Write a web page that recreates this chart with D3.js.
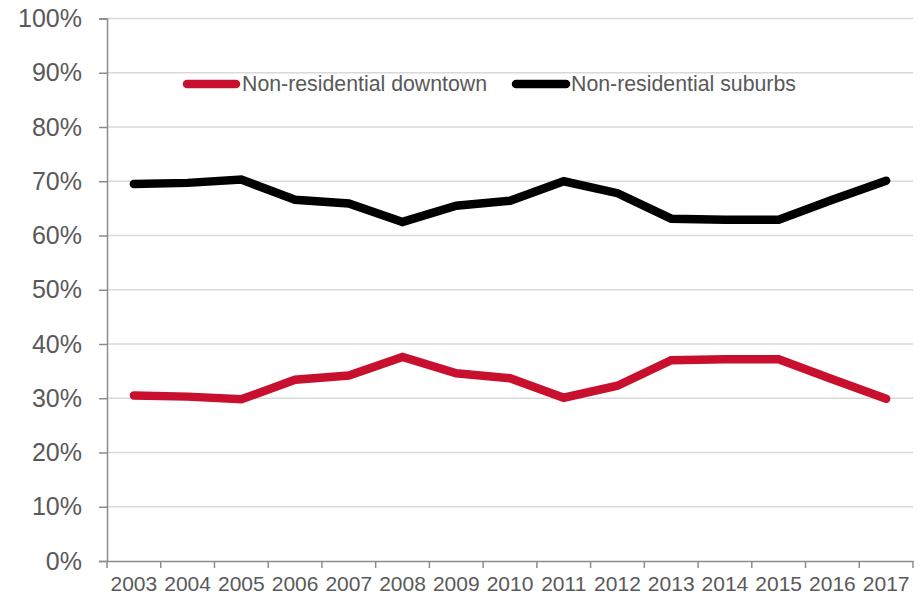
<!DOCTYPE html>
<html>
<head>
<meta charset="utf-8">
<script src="https://cdn.jsdelivr.net/npm/d3@7"></script>
<style>
  html, body { margin: 0; padding: 0; background: #fff; }
  svg { display: block; font-family: "Liberation Sans", Arial, sans-serif; }
</style>
</head>
<body>
<svg id="chart" width="922" height="595"></svg>
<script>
// Share of non-residential space, downtown vs suburbs, by year
const years = ["2003","2004","2005","2006","2007","2008","2009","2010","2011","2012","2013","2014","2015","2016","2017"];
const downtown = [30.5, 30.3, 29.8, 33.4, 34.2, 37.6, 34.6, 33.7, 30.1, 32.3, 37.0, 37.2, 37.2, 33.5, 29.9];
const suburbs  = [69.5, 69.7, 70.3, 66.6, 65.9, 62.5, 65.5, 66.4, 70.0, 67.8, 63.1, 62.9, 62.9, 66.6, 70.1];
const yTicks = [0, 10, 20, 30, 40, 50, 60, 70, 80, 90, 100];
const seriesNames = ["Non-residential downtown", "Non-residential suburbs"];
const seriesColors = ["#C8102E", "#000000"];

const svg = d3.select("#chart");
const plot = { left: 107, right: 913, top: 18.5, bottom: 561 };
const textColor = "#595959";
const axisColor = "#8c8c8c";

const x = d3.scaleBand().domain(years).range([plot.left, plot.right]);
const y = d3.scaleLinear().domain([0, 100]).range([plot.bottom, plot.top]);

// Horizontal gridlines
svg.append("g")
  .selectAll("line")
  .data(yTicks.filter(d => d > 0))
  .join("line")
  .attr("x1", plot.left).attr("x2", plot.right)
  .attr("y1", d => y(d)).attr("y2", d => y(d))
  .attr("stroke", "#d9d9d9").attr("stroke-width", 1.5);

// Y axis
const yAxis = svg.append("g")
  .attr("transform", `translate(${plot.left},0)`)
  .call(d3.axisLeft(y).tickValues(yTicks).tickFormat(d => d + "%").tickSize(8).tickPadding(17));
yAxis.select(".domain").attr("stroke", axisColor).attr("stroke-width", 1.5);
yAxis.selectAll(".tick line").attr("stroke", axisColor).attr("stroke-width", 1.5);
yAxis.selectAll(".tick text")
  .attr("fill", textColor).attr("font-size", 25)
  .attr("font-family", "Liberation Sans, Arial, sans-serif");

// X axis with ticks on category boundaries
const xAxis = svg.append("g")
  .attr("transform", `translate(0,${plot.bottom})`)
  .call(d3.axisBottom(x).tickSize(0).tickPadding(15));
xAxis.select(".domain").attr("stroke", axisColor).attr("stroke-width", 1.5);
xAxis.selectAll(".tick text")
  .attr("fill", textColor).attr("font-size", 21)
  .attr("font-family", "Liberation Sans, Arial, sans-serif");
svg.append("g")
  .selectAll("line")
  .data(d3.range(years.length + 1))
  .join("line")
  .attr("x1", i => plot.left + i * x.step()).attr("x2", i => plot.left + i * x.step())
  .attr("y1", plot.bottom).attr("y2", plot.bottom + 7)
  .attr("stroke", axisColor).attr("stroke-width", 1.5);

// Series lines
const line = d3.line()
  .x((d, i) => x(years[i]) + x.bandwidth() / 2)
  .y(d => y(d));

[downtown, suburbs].forEach((vals, k) => {
  svg.append("path")
    .datum(vals)
    .attr("d", line)
    .attr("fill", "none")
    .attr("stroke", seriesColors[k])
    .attr("stroke-width", 8.5)
    .attr("stroke-linejoin", "miter")
    .attr("stroke-linecap", "round");
});

// Legend
const legendY = 84;
const legendItems = [
  { x1: 187, x2: 236, tx: 242 },
  { x1: 516, x2: 566, tx: 571 }
];
legendItems.forEach((it, k) => {
  svg.append("line")
    .attr("x1", it.x1).attr("x2", it.x2)
    .attr("y1", legendY).attr("y2", legendY)
    .attr("stroke", seriesColors[k]).attr("stroke-width", 8.5)
    .attr("stroke-linecap", "round");
  svg.append("text")
    .attr("x", it.tx).attr("y", legendY)
    .attr("dy", "0.35em")
    .attr("fill", textColor).attr("font-size", 21.3)
    .text(seriesNames[k]);
});
</script>
</body>
</html>
